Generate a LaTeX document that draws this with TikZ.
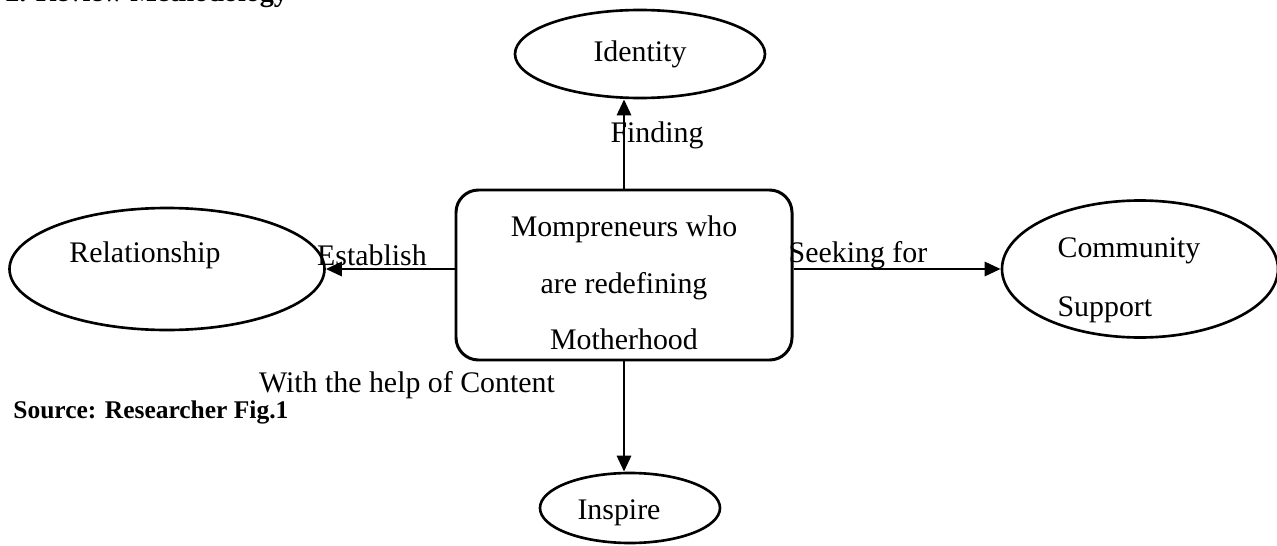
\documentclass[tikz,border=0pt]{standalone}
\usepackage{fontspec}
\setmainfont{Liberation Serif}
\usepackage{xcolor}
\usepackage{tikz}
\usetikzlibrary{shapes,arrows.meta,positioning}

\begin{document}
\begin{tikzpicture}[
    central/.style={rectangle, rounded corners=0.45cm, draw=black, line width=1.7pt, minimum width=6.72cm, minimum height=3.4cm},
    outcome/.style={ellipse, draw=black, line width=1.5pt, inner sep=0pt, font=\fontsize{17}{20}\selectfont},
    caption/.style={inner sep=0pt, font=\fontsize{17}{20}\selectfont},
    arrow/.style={-{Triangle[length=0.32cm, width=0.28cm]}, line width=1.7pt}
]
    \useasboundingbox (0,0) rectangle (25.54,10.9);

    % Heading (cut off at the top)
    \node[anchor=base west, inner sep=0pt, font=\fontsize{16}{19}\selectfont\bfseries] (heading) at (0.1,10.87) {2. Review Methodology};

    % Centre
    \node[central] (mom) at (12.48,5.4) {};
    \node[caption, align=center, font=\fontsize{17}{32}\selectfont] (momtext) at (12.48,5.24) {
        Mompreneurs who\\
        are redefining\\
        Motherhood
    };

    % Outcomes
    \node[outcome, minimum width=5cm, minimum height=1.76cm] (identity) at (12.8,9.82) {Identity};
    \node[outcome, minimum width=6.3cm, minimum height=2.44cm] (relationship) at (3.34,5.52) {};
    \node[caption] (reltext) at (2.9,5.8) {Relationship};
    \node[outcome, minimum width=5.52cm, minimum height=2.74cm] (community) at (22.8,5.52) {};
    \node[caption, align=left, font=\fontsize{17}{33.5}\selectfont] (commtext) at (22.58,5.3) {Community\\Support};
    \node[outcome, minimum width=3.6cm, minimum height=1.4cm] (inspire) at (12.6,0.74) {};
    \node[caption] (inspiretext) at (12.38,0.64) {Inspire};

    % Arrows
    \draw[arrow] (mom.north) -- (mom.north |- identity.south);
    \draw[arrow] (mom.west |- relationship.east) -- (relationship.east);
    \draw[arrow] (mom.east |- community.west) -- (community.west);
    \draw[arrow] (mom.south) -- (mom.south |- inspire.north);

    % Arrow labels
    \node[caption] (finding) at (13.14,8.19) {Finding};
    \node[caption] (establish) at (7.44,5.8) {Establish};
    \node[caption] (seeking) at (17.16,5.8) {Seeking for};
    \node[caption] (content) at (8.14,3.19) {With the help of Content};

    % Source
    \node[anchor=west, inner sep=0pt, font=\fontsize{14.5}{17}\selectfont\bfseries] (source) at (0.26,2.66) {Source: Researcher Fig.1};
\end{tikzpicture}
\end{document}
